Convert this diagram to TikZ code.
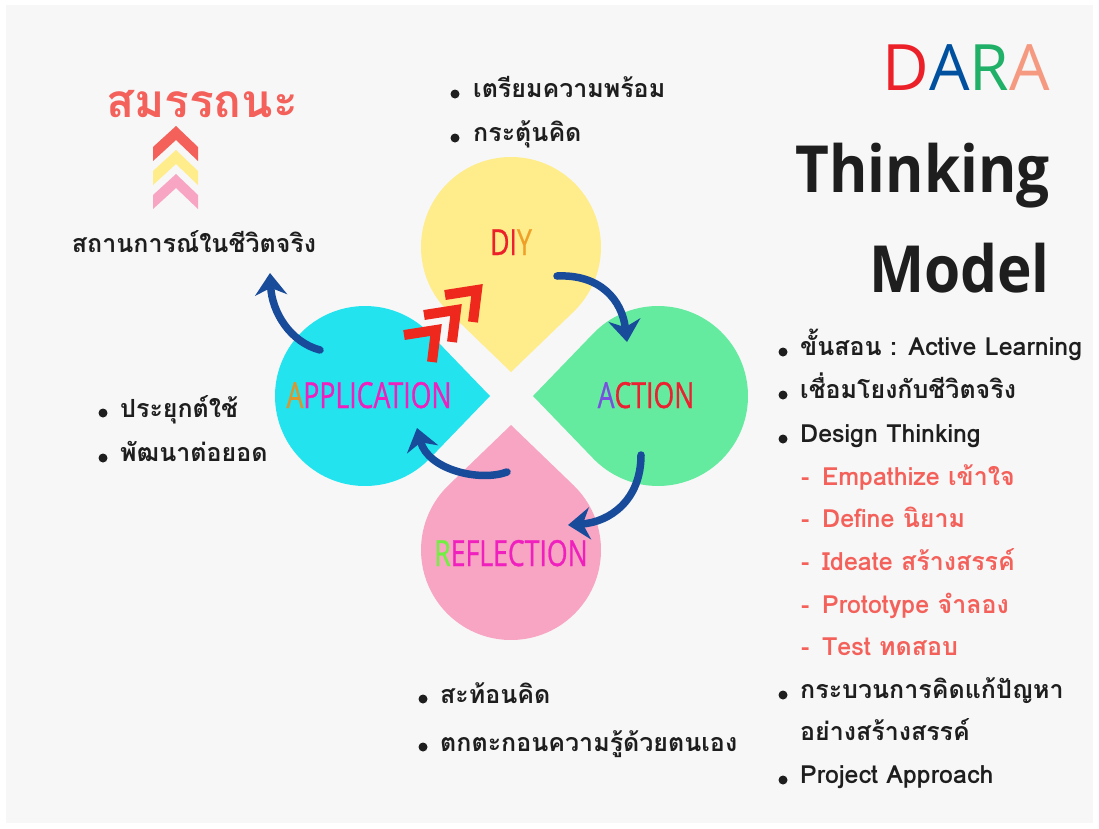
\documentclass[tikz,border=0pt]{standalone}
\usepackage{fontspec}
\usetikzlibrary{arrows.meta}
\newfontfamily\thaifont[Script=Thai]{Loma}
\newfontfamily\titlefont{Open Sans}
\newfontfamily\labelfont[FakeBold=0.8]{Open Sans}
\definecolor{bgc}{RGB}{247,247,247}
\definecolor{petY}{RGB}{255,236,139}
\definecolor{petG}{RGB}{100,235,160}
\definecolor{petC}{RGB}{35,228,238}
\definecolor{petP}{RGB}{248,165,195}
\definecolor{arrB}{RGB}{25,75,155}
\definecolor{chevR}{RGB}{238,40,28}
\definecolor{salmon}{RGB}{244,96,90}
\definecolor{txt}{RGB}{30,30,30}
\definecolor{dRed}{RGB}{236,32,40}
\definecolor{dBlue}{RGB}{0,80,160}
\definecolor{dGreen}{RGB}{32,176,104}
\definecolor{dSalmon}{RGB}{245,154,128}
\definecolor{lMag}{RGB}{240,32,190}
\definecolor{lRed}{RGB}{236,32,48}
\definecolor{lPur}{RGB}{122,79,224}
\definecolor{lOra}{RGB}{224,149,42}
\definecolor{lGre}{RGB}{112,240,64}
\definecolor{lYor}{RGB}{240,160,40}
\newcommand\mypetal[4]{\begin{scope}[shift={(#1,#2)}]\fill[#4] (#3:125) -- (#3+44:90) arc[start angle=#3+44, end angle=#3+316, radius=90] -- cycle;\end{scope}}
\tikzset{
  thaitext/.style={font=\thaifont\bfseries\fontsize{25}{28}\selectfont, text=txt, anchor=base west, inner sep=0pt},
  redtext/.style={thaitext, text=salmon},
  dot/.style={circle, fill=txt, inner sep=0pt, minimum size=9pt},
  petlabel/.style={font=\labelfont\fontsize{36}{40}\selectfont, anchor=base, inner sep=0pt},
  titletext/.style={font=\titlefont\bfseries\fontsize{65}{70}\selectfont, text=txt, anchor=base east, inner sep=0pt},
  bluearrow/.style={draw=arrB, line width=7.5pt, line cap=round, -{Stealth[length=22pt,width=32pt]}},
  redchev/.style={draw=chevR, line width=10pt, miter limit=10},
}
\begin{document}
\begin{tikzpicture}[x=1pt,y=-1pt]
\useasboundingbox (0,0) rectangle (1099,828);
\fill[white] (0,0) rectangle (1099,828);
\fill[bgc] (6,5) rectangle (1093,823);
% petals
\mypetal{511}{247}{90}{petY}
\mypetal{658}{396}{180}{petG}
\mypetal{365}{396}{0}{petC}
\mypetal{511}{550}{270}{petP}
% petal labels
\node[petlabel] (diy) at (511,255) {\scalebox{0.74}[1]{\textcolor{dRed}{D}\textcolor{lRed}{I}\textcolor{lYor}{Y}}};
\node[petlabel] (action) at (646,408) {\scalebox{0.74}[1]{\textcolor{lPur}{A}\textcolor{lRed}{CTION}}};
\node[petlabel] (application) at (369,408) {\scalebox{0.74}[1]{\textcolor{lOra}{A}\textcolor{lMag}{PPLICATION}}};
\node[petlabel] (reflection) at (511,566) {\scalebox{0.74}[1]{\textcolor{lGre}{R}\textcolor{lMag}{EFLECTION}}};
% blue arrows
\coordinate (a1s) at (557,276); \coordinate (a1e) at (627,342);
\coordinate (a2s) at (641,455); \coordinate (a2e) at (568,525);
\coordinate (a3s) at (507,472); \coordinate (a3e) at (417,428);
\coordinate (a4s) at (320,350); \coordinate (a4e) at (270,273);
\draw[bluearrow] (a1s) .. controls (600,274) and (622,300) .. (a1e);
\draw[bluearrow] (a2s) .. controls (641,500) and (610,522) .. (a2e);
\draw[bluearrow] (a3s) .. controls (480,482) and (428,470) .. (a3e);
\draw[bluearrow] (a4s) .. controls (290,342) and (272,312) .. (a4e);
% red chevrons
\draw[redchev] (445,295) -- (477,290) -- (473,322);
\draw[redchev] (424,315) -- (456,310) -- (452,342);
\draw[redchev] (404,335) -- (436,330) -- (432,362);
% left stacked chevrons
\fill[salmon] (153,147) -- (176,126) -- (198,147) -- (198,161) -- (176,140) -- (153,161) -- cycle;
\fill[petY] (153,171) -- (176,150) -- (198,171) -- (198,185) -- (176,164) -- (153,185) -- cycle;
\fill[petP] (153,195) -- (176,174) -- (198,195) -- (198,209) -- (176,188) -- (153,209) -- cycle;
% left texts
\node[thaitext, text=salmon, font=\thaifont\bfseries\fontsize{46}{50}\selectfont, anchor=base] (samrat) at (202,117) {สมรรถนะ};
\node[thaitext, anchor=base] (situation) at (194,252) {สถานการณ์ในชีวิตจริง};
% top bullets
\node[dot] (bt1) at (455,94) {}; \node[thaitext] (t1) at (473,97) {เตรียมความพร้อม};
\node[dot] (bt2) at (455,138) {}; \node[thaitext] (t2) at (473,141) {กระตุ้นคิด};
% left bullets
\node[dot] (bl1) at (103,413) {}; \node[thaitext] (l1) at (120,417) {ประยุกต์ใช้};
\node[dot] (bl2) at (103,458) {}; \node[thaitext] (l2) at (120,461) {พัฒนาต่อยอด};
% bottom bullets
\node[dot] (bb1) at (423,699) {}; \node[thaitext] (b1) at (440,703) {สะท้อนคิด};
\node[dot] (bb2) at (423,747) {}; \node[thaitext] (b2) at (440,751) {ตกตะกอนความรู้ด้วยตนเอง};
% title
\node[titletext, font=\titlefont\fontsize{64}{70}\selectfont] (dara) at (1050,90) {\textcolor{dRed}{D}\textcolor{dBlue}{A}\textcolor{dGreen}{R}\textcolor{dSalmon}{A}};
\node[titletext] (thinking) at (1050,192) {\scalebox{0.9}[1]{Thinking}};
\node[titletext] (model) at (1050,292) {\scalebox{0.9}[1]{Model}};
% right list
\node[dot] (r1d) at (783,352) {}; \node[thaitext] (r1) at (800,355) {ขั้นสอน : Active Learning};
\node[dot] (r2d) at (783,395) {}; \node[thaitext] (r2) at (800,398) {เชื่อมโยงกับชีวิตจริง};
\node[dot] (r3d) at (783,439) {}; \node[thaitext] (r3) at (800,442) {Design Thinking};
\node[redtext] (r4d) at (801,485) {-}; \node[redtext] (r4) at (822,485) {Empathize เข้าใจ};
\node[redtext] (r5d) at (801,527) {-}; \node[redtext] (r5) at (822,527) {Define นิยาม};
\node[redtext] (r6d) at (801,570) {-}; \node[redtext] (r6) at (822,570) {Ideate สร้างสรรค์};
\node[redtext] (r7d) at (801,613) {-}; \node[redtext] (r7) at (822,613) {Prototype จำลอง};
\node[redtext] (r8d) at (801,655) {-}; \node[redtext] (r8) at (822,655) {Test ทดสอบ};
\node[dot] (r9d) at (783,695) {}; \node[thaitext] (r9) at (800,698) {กระบวนการคิดแก้ปัญหา};
\node[thaitext] (r10) at (800,740) {อย่างสร้างสรรค์};
\node[dot] (r11d) at (783,780) {}; \node[thaitext] (r11) at (800,783) {Project Approach};
\end{tikzpicture}
\end{document}
